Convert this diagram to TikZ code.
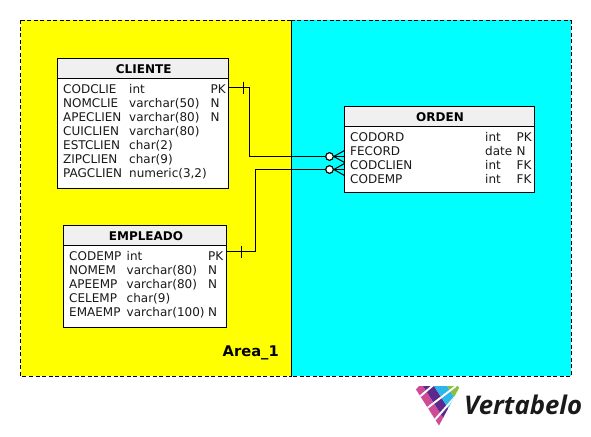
\documentclass[tikz,border=0pt]{standalone}
\usepackage{fontspec}
\setmainfont{DejaVu Sans}
\newfontfamily\logofont{Open Sans}
\definecolor{hdr}{HTML}{F0F0F0}
\definecolor{txt}{HTML}{1A1A1A}
\definecolor{zoneyellow}{HTML}{FFFF00}
\definecolor{zonecyan}{HTML}{00FFFF}
\definecolor{vpink}{HTML}{CE4B98}
\definecolor{vpurple}{HTML}{5B2A8C}
\definecolor{vblue}{HTML}{2BB5E8}
\definecolor{vgreen}{HTML}{8CBF3F}
\tikzset{
  zoneline/.style={draw=black,line width=0.8pt,dash pattern=on 4pt off 2.5pt},
  tablebox/.style={draw=black,line width=1.1pt,fill=white},
  headbox/.style={draw=black,line width=1.1pt,fill=hdr},
  title/.style={font=\fontsize{12}{14}\selectfont\bfseries,text=black,inner sep=0pt},
  cell/.style={font=\fontsize{12}{14}\selectfont,text=txt,inner sep=0pt,anchor=base west},
  conn/.style={draw=black,line width=1pt},
  optcircle/.style={circle,draw=black,line width=1pt,fill=white,minimum size=7.5pt,inner sep=0pt},
  arealabel/.style={font=\fontsize{14.7}{16}\selectfont\bfseries,text=black,inner sep=0pt,anchor=base west},
  logostripe/.style={draw=white,line width=1.9pt},
}
\begin{document}
\begin{tikzpicture}[x=1pt,y=-1pt]
\useasboundingbox (0,0) rectangle (591,436);
\fill[white] (0,0) rectangle (591,436);
% areas
\fill[zoneyellow] (20.5,20.5) rectangle (291,376);
\fill[zonecyan] (291,20.5) rectangle (571,376);
\draw[zoneline] (20.5,20.5) rectangle (291,376);
\draw[zoneline] (291,20.5) rectangle (571,376);
\node[arealabel] (area) at (222.5,356.3) {Area\_1};
% connector helpers
\coordinate (cliout) at (228.5,87.5);
\coordinate (cliturn) at (249.5,87.5);
\coordinate (cliturnb) at (249.5,156.5);
\coordinate (empout) at (226.5,251.5);
\coordinate (empturn) at (255,251.5);
\coordinate (empturnb) at (255,169.5);
\node[optcircle] (c1) at (329.5,156.5) {};
\node[optcircle] (c2) at (329.5,169.5) {};
\coordinate (o1a) at (344.5,150.5);
\coordinate (o1b) at (344.5,156.5);
\coordinate (o1c) at (344.5,162.5);
\coordinate (o2a) at (344.5,163.5);
\coordinate (o2b) at (344.5,169.5);
\coordinate (o2c) at (344.5,175.5);
\draw[conn] (cliout) -- (cliturn) -- (cliturnb) -- (c1);
\draw[conn] (empout) -- (empturn) -- (empturnb) -- (c2);
\draw[conn] (c1) -- (o1b);
\draw[conn] (c2) -- (o2b);
\draw[conn] (c1.east) -- (o1a);
\draw[conn] (c1.east) -- (o1c);
\draw[conn] (c2.east) -- (o2a);
\draw[conn] (c2.east) -- (o2c);
\draw[conn] (243.7,81.5) -- (243.7,93.5);
\draw[conn] (241.7,245.5) -- (241.7,257.5);
\node[optcircle] at (c1) {};
\node[optcircle] at (c2) {};
% CLIENTE
\draw[tablebox] (57.5,58.5) rectangle (228.5,188.5);
\draw[headbox] (57.5,58.5) rectangle (228.5,78.5);
\node[title] (cliente) at (143.7,69) {CLIENTE};
\foreach \fa/\fb/\fc [count=\i from 0] in {CODCLIE/int/PK,NOMCLIE/varchar(50)/N,APECLIEN/varchar(80)/N,CUICLIEN/varchar(80)/,ESTCLIEN/char(2)/,ZIPCLIEN/char(9)/,PAGCLIEN/{numeric(3,2)}/}{
  \node[cell] (cl\i a) at (63,93+14*\i) {\fa};
  \node[cell] (cl\i b) at (129,93+14*\i) {\fb};
  \node[cell] (cl\i c) at (210.5,93+14*\i) {\fc};
}
% EMPLEADO
\draw[tablebox] (63.5,225.5) rectangle (226.5,327.5);
\draw[headbox] (63.5,225.5) rectangle (226.5,245.5);
\node[title] (empleado) at (146,236) {EMPLEADO};
\foreach \fa/\fb/\fc [count=\i from 0] in {CODEMP/int/PK,NOMEM/varchar(80)/N,APEEMP/varchar(80)/N,CELEMP/char(9)/,EMAEMP/varchar(100)/N}{
  \node[cell] (em\i a) at (69,260+14*\i) {\fa};
  \node[cell] (em\i b) at (126.5,260+14*\i) {\fb};
  \node[cell] (em\i c) at (208,260+14*\i) {\fc};
}
% ORDEN
\draw[tablebox] (344.5,106.5) rectangle (534.5,192.5);
\draw[headbox] (344.5,106.5) rectangle (534.5,126.5);
\node[title] (orden) at (440,117) {ORDEN};
\foreach \fa/\fb/\fc [count=\i from 0] in {CODORD/int/PK,FECORD/date/N,CODCLIEN/int/FK,CODEMP/int/FK}{
  \node[cell] (or\i a) at (350,141+14*\i) {\fa};
  \node[cell] (or\i b) at (485,141+14*\i) {\fb};
  \node[cell] (or\i c) at (516.5,141+14*\i) {\fc};
}
% logo
\begin{scope}
\clip (416,389.5) -- (419,386) -- (458,386) -- (459,388) -- (439,425.5) -- cycle;
\fill[vpink] (410,386) -- (423,386) -- (448.5,426) -- (410,426) -- cycle;
\fill[vpurple] (423,386) -- (434,386) -- (459.5,426) -- (448.5,426) -- cycle;
\fill[vblue] (434,386) -- (447,386) -- (472.5,426) -- (459.5,426) -- cycle;
\fill[vgreen] (447,386) -- (465,386) -- (465,426) -- (472.5,426) -- cycle;
\draw[logostripe] (434,384.5) -- (417,399);
\draw[logostripe] (456,386) -- (426,409);
\draw[logostripe] (462,389) -- (432,423);
\end{scope}
\node[inner sep=0pt,anchor=base west,text=txt] (logo) at (464,414.5) {\logofont\fontsize{25.7}{28}\selectfont\bfseries\itshape Vertabelo};
\end{tikzpicture}
\end{document}
